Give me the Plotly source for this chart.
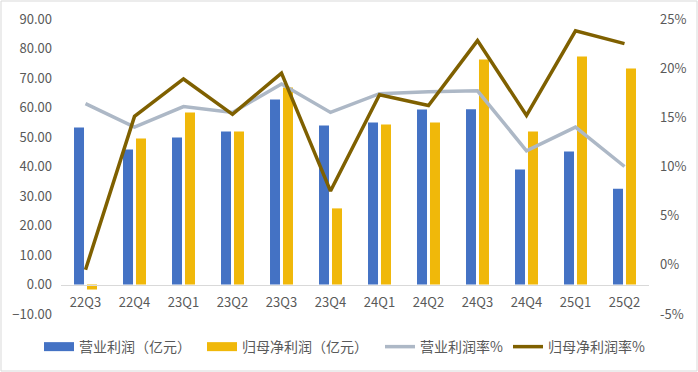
import plotly.graph_objects as go

categories = ["22Q3", "22Q4", "23Q1", "23Q2", "23Q3", "23Q4", "24Q1", "24Q2", "24Q3", "24Q4", "25Q1", "25Q2"]
op_profit = [53.2, 45.8, 49.8, 51.9, 62.7, 53.9, 54.9, 59.3, 59.4, 39.0, 45.1, 32.5]
net_profit = [-1.7, 49.5, 58.3, 51.9, 66.8, 25.8, 54.2, 54.9, 76.3, 51.9, 77.3, 73.2]
op_margin = [16.4, 14.0, 16.1, 15.5, 18.4, 15.5, 17.4, 17.6, 17.7, 11.6, 14.0, 10.0]
net_margin = [-0.5, 15.1, 18.9, 15.3, 19.5, 7.5, 17.3, 16.2, 22.8, 15.2, 23.8, 22.5]

left_ticks = [-10, 0, 10, 20, 30, 40, 50, 60, 70, 80, 90]
right_ticks = [-5, 0, 5, 10, 15, 20, 25]
right_labels = ["-5%", "0%", "5%", "10%", "15%", "20%", "25%"]

FONT = "Noto Sans CJK SC, Noto Sans, sans-serif"
GREY_TXT = "#595959"
BLUE = "#4472C4"
GOLD = "#F0B80A"

fig = go.Figure()
fig.add_trace(go.Bar(x=categories, y=op_profit, name="营业利润（亿元）", showlegend=False,
                     marker=dict(color=BLUE, line=dict(width=0))))
fig.add_trace(go.Bar(x=categories, y=net_profit, name="归母净利润（亿元）", showlegend=False,
                     marker=dict(color=GOLD, line=dict(width=0))))
# legend swatches for the bars (wide rectangles as in the original)
fig.add_trace(go.Scatter(x=[None], y=[None], mode="lines", name="营业利润（亿元）",
                         line=dict(color=BLUE, width=9), legendwidth=118, legend="legend"))
fig.add_trace(go.Scatter(x=[None], y=[None], mode="lines", name="归母净利润（亿元）",
                         line=dict(color=GOLD, width=9), legendwidth=133, legend="legend"))
fig.add_trace(go.Scatter(x=categories, y=op_margin, name="营业利润率%", yaxis="y2",
                         mode="lines", line=dict(color="#ADB8C6", width=3.5), legendwidth=83,
                         legend="legend2"))
fig.add_trace(go.Scatter(x=categories, y=net_margin, name="归母净利润率%", yaxis="y2",
                         mode="lines", line=dict(color="#7F6000", width=3.5), legendwidth=100,
                         legend="legend2"))

zero_pos = 10 / 100.0
leg_common = dict(orientation="h", y=-0.112, yanchor="middle", xanchor="left",
                  font=dict(size=14, color=GREY_TXT), tracegroupgap=0, bgcolor="rgba(0,0,0,0)")

fig.update_layout(
    width=698, height=372,
    margin=dict(l=61, r=49, t=19, b=58, autoexpand=False),
    paper_bgcolor="white", plot_bgcolor="white",
    font=dict(family=FONT, size=13, color=GREY_TXT),
    barmode="group", bargap=0.47, bargroupgap=0.23,
    showlegend=True,
    legend=dict(x=(39 - 61) / 588, **leg_common),
    legend2=dict(x=(380 - 61) / 588, **leg_common),
    xaxis=dict(anchor="free", position=zero_pos, showline=True, linecolor="#D9D9D9", linewidth=1,
               ticks="outside", ticklen=6, tickcolor="rgba(0,0,0,0)", showgrid=False,
               tickfont=dict(size=13, color=GREY_TXT), zeroline=False, automargin=False),
    yaxis=dict(range=[-10, 90], tickvals=left_ticks, tickformat=".2f", showgrid=False,
               zeroline=False, showline=False, ticks="", ticklabelstandoff=8, automargin=False,
               tickfont=dict(size=13, color=GREY_TXT)),
    yaxis2=dict(range=[-5, 25], tickvals=right_ticks, ticktext=right_labels, overlaying="y", side="right",
                showgrid=False, zeroline=False, showline=False, ticks="", ticklabelstandoff=10,
                automargin=False, tickfont=dict(size=13, color=GREY_TXT)),
    shapes=[dict(type="rect", xref="paper", yref="paper",
                 x0=(1 - 61) / 588, x1=(697 - 61) / 588,
                 y0=(314 - 371) / 295, y1=(314 - 1) / 295,
                 line=dict(color="#D9D9D9", width=1), fillcolor="rgba(0,0,0,0)", layer="below")],
)

fig.write_html("out.html", config={"displayModeBar": False},
               post_script="document.body.style.margin='0';document.body.style.overflow='hidden';")
